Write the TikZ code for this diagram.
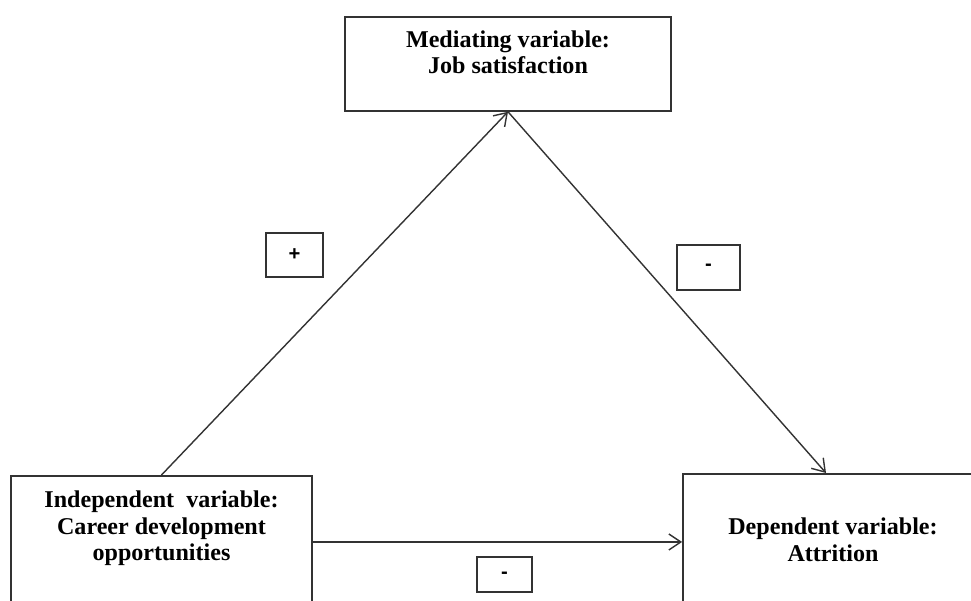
\documentclass[tikz,border=0pt]{standalone}
\usepackage{fontspec}
\setmainfont{Liberation Serif}
\newfontfamily\signfont{Liberation Sans}
\usetikzlibrary{arrows.meta}

\tikzset{
	varbox/.style={draw=black!80, line width=1pt, anchor=north, align=center,
		font=\fontsize{13.7}{15.2}\selectfont\bfseries, inner xsep=0pt, inner ysep=0.3cm},
	signbox/.style={draw=black!80, line width=1.1pt, inner sep=0pt,
		font=\signfont\fontsize{11.5}{13}\selectfont\bfseries},
	link/.style={draw=black!80, line width=0.8pt,
		-{Straight Barb[length=2.4mm,width=3.2mm]}}
}

\begin{document}
\begin{tikzpicture}
	\useasboundingbox (0,0) rectangle (19.42,-12.02);
	\clip (0,0) rectangle (19.42,-12.02);

	% variables
	\node[varbox, minimum width=6.52cm, text height=0.84cm, text depth=0.44cm]
		(med) at (10.16,-0.32) {Mediating variable:\\Job satisfaction};
	\node[varbox, minimum width=6.02cm, text height=1.4cm, text depth=3cm]
		(indep) at (3.23,-9.5) {Independent\ \ variable:\\Career development\\opportunities};
	\node[varbox, minimum width=6cm, text height=1.45cm, text depth=3cm]
		(dep) at (16.66,-9.46) {Dependent variable:\\Attrition};

	% effects
	\draw[link] (indep.north) -- (med.south);
	\draw[link] (med.south) -- ([xshift=-0.14cm]dep.north);
	\coordinate (direct) at ([yshift=-1.34cm]indep.north east);
	\draw[link] (direct) -- (direct -| dep.west);

	% signs
	\node[signbox, minimum width=1.14cm, minimum height=0.88cm] (plus) at (5.89,-5.1) {+};
	\node[signbox, minimum width=1.26cm, minimum height=0.9cm] (minusr) at (14.17,-5.35) {-};
	\node[signbox, minimum width=1.1cm, minimum height=0.7cm] (minusb) at (10.09,-11.49)
		{\raisebox{-0.15cm}{-}};

\end{tikzpicture}
\end{document}
